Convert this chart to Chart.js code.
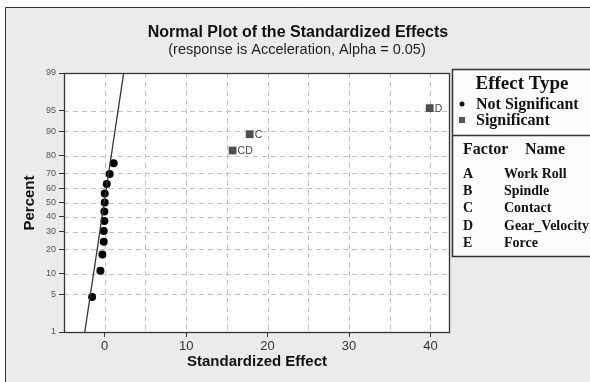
<!DOCTYPE html>
<html>
<head>
<meta charset="utf-8">
<script src="https://cdn.jsdelivr.net/npm/chart.js@4/dist/chart.umd.min.js"></script>
<style>
  html, body { margin: 0; padding: 0; background: #fff; }
  #wrap { width: 590px; height: 382px; }
</style>
</head>
<body>
<div id="wrap"><canvas id="effects" width="590" height="382"></canvas></div>
<script>
// effects that are not significant (standardized effect, normal percent)
const notSigEffects = [-1.55, -0.53, -0.29, -0.12, -0.12, -0.04, -0.04, 0, 0, 0.25, 0.61, 1.1];
const notSigPercents = [4.5, 11.0, 17.5, 24.0, 30.5, 37.0, 43.5, 50.0, 56.5, 63.0, 69.5, 76.0];

// significant effects
const sigLabels = ['CD', 'C', 'D'];
const sigEffects = [15.7, 17.8, 39.9];
const sigPercents = [82.5, 89.0, 95.5];

// fitted reference line end points
const lineEffects = [-2.45, 2.33];
const linePercents = [1, 99];

// axes
const percentTicks = [1, 5, 10, 20, 30, 40, 50, 60, 70, 80, 90, 95, 99];
const effectTicks = [-5, 0, 5, 10, 15, 20, 25, 30, 35, 40];

// factor table
const factorCodes = ['A', 'B', 'C', 'D', 'E'];
const factorNames = ['Work Roll', 'Spindle', 'Contact', 'Gear_Velocity', 'Force'];

// inverse normal cdf (Acklam) so the y axis is a normal probability scale
function probit(p) {
  const a = [-3.969683028665376e+01, 2.209460984245205e+02, -2.759285104469687e+02, 1.383577518672690e+02, -3.066479806614716e+01, 2.506628277459239e+00];
  const b = [-5.447609879822406e+01, 1.615858368580409e+02, -1.556989798598866e+02, 6.680131188771972e+01, -1.328068155288572e+01];
  const c = [-7.784894002430293e-03, -3.223964580411365e-01, -2.400758277161838e+00, -2.549732539343734e+00, 4.374664141464968e+00, 2.938163982698783e+00];
  const d = [7.784695709041462e-03, 3.224671290700398e-01, 2.445134137142996e+00, 3.754408661907416e+00];
  const pl = 0.02425;
  let q, r;
  if (p < pl) {
    q = Math.sqrt(-2 * Math.log(p));
    return (((((c[0]*q+c[1])*q+c[2])*q+c[3])*q+c[4])*q+c[5]) / ((((d[0]*q+d[1])*q+d[2])*q+d[3])*q+1);
  }
  if (p > 1 - pl) {
    q = Math.sqrt(-2 * Math.log(1 - p));
    return -(((((c[0]*q+c[1])*q+c[2])*q+c[3])*q+c[4])*q+c[5]) / ((((d[0]*q+d[1])*q+d[2])*q+d[3])*q+1);
  }
  q = p - 0.5; r = q * q;
  return (((((a[0]*r+a[1])*r+a[2])*r+a[3])*r+a[4])*r+a[5])*q / (((((b[0]*r+b[1])*r+b[2])*r+b[3])*r+b[4])*r+1);
}
const z = pct => probit(pct / 100);

const pts = (xs, ps) => xs.map((x, i) => ({ x: x, y: z(ps[i]) }));

const SANS = '"Liberation Sans", Arial, sans-serif';
const SERIF = '"Liberation Serif", "Times New Roman", serif';

const decor = {
  id: 'decor',
  beforeDraw(chart) {
    const ctx = chart.ctx;
    const a = chart.chartArea;
    ctx.save();
    ctx.fillStyle = '#ffffff';
    ctx.fillRect(0, 0, 590, 382);
    ctx.fillStyle = '#ebebeb';
    ctx.fillRect(5, 7, 600, 400);
    ctx.strokeStyle = '#333';
    ctx.lineWidth = 1;
    ctx.beginPath();
    ctx.moveTo(5.5, 382); ctx.lineTo(5.5, 7.5); ctx.lineTo(590, 7.5);
    ctx.stroke();
    ctx.fillStyle = '#ffffff';
    ctx.fillRect(a.left, a.top, a.right - a.left, a.bottom - a.top);
    ctx.restore();
  },
  beforeDatasetsDraw(chart) {
    // dashed grid at the axis ticks
    const ctx = chart.ctx;
    const a = chart.chartArea;
    const xs = chart.scales.x, ys = chart.scales.y;
    ctx.save();
    ctx.strokeStyle = '#c2c2c2';
    ctx.lineWidth = 1;
    ctx.setLineDash([5, 4]);
    effectTicks.forEach(v => {
      const px = Math.round(xs.getPixelForValue(v)) + 0.5;
      if (px <= a.left + 1 || px >= a.right - 1) return;
      ctx.beginPath(); ctx.moveTo(px, a.top); ctx.lineTo(px, a.bottom); ctx.stroke();
    });
    percentTicks.forEach(p => {
      const py = Math.round(ys.getPixelForValue(z(p))) + 0.5;
      if (py <= a.top + 1 || py >= a.bottom - 1) return;
      ctx.beginPath(); ctx.moveTo(a.left, py); ctx.lineTo(a.right, py); ctx.stroke();
    });
    ctx.restore();
  },
  afterDraw(chart) {
    const ctx = chart.ctx;
    const a = chart.chartArea;
    const xs = chart.scales.x, ys = chart.scales.y;
    ctx.save();
    // plot frame
    ctx.strokeStyle = '#333';
    ctx.lineWidth = 1.3;
    ctx.strokeRect(a.left + 0.5, a.top + 0.5, a.right - a.left - 1, a.bottom - a.top);

    // titles
    ctx.fillStyle = '#111';
    ctx.textAlign = 'center';
    ctx.textBaseline = 'middle';
    ctx.font = 'bold 16px ' + SANS;
    ctx.fillText('Normal Plot of the Standardized Effects', 298, 33);
    ctx.font = '14.5px ' + SANS;
    ctx.fillStyle = '#222';
    ctx.fillText('(response is Acceleration, Alpha = 0.05)', 297, 50);

    // axis titles
    ctx.fillStyle = '#111';
    ctx.font = 'bold 15px ' + SANS;
    ctx.fillText('Standardized Effect', (a.left + a.right) / 2, 362);
    ctx.save();
    ctx.translate(30, 203);
    ctx.rotate(-Math.PI / 2);
    ctx.fillText('Percent', 0, 0);
    ctx.restore();

    // labels of significant points
    ctx.font = '10.5px ' + SANS;
    ctx.fillStyle = '#444';
    ctx.textAlign = 'left';
    sigLabels.forEach((lab, i) => {
      ctx.fillText(lab, xs.getPixelForValue(sigEffects[i]) + 5, ys.getPixelForValue(z(sigPercents[i])) + 1);
    });

    // legend box
    const L = 452, T = 69, B = 256;
    ctx.fillStyle = '#fcfcfc';
    ctx.fillRect(L, T, 600 - L, B - T);
    ctx.strokeStyle = '#333';
    ctx.lineWidth = 1.5;
    ctx.strokeRect(L + 0.5, T + 0.5, 600 - L, B - T);
    ctx.beginPath();
    ctx.moveTo(L, 135.5); ctx.lineTo(590, 135.5);
    ctx.stroke();

    ctx.fillStyle = '#111';
    ctx.textAlign = 'center';
    ctx.font = 'bold 19px ' + SERIF;
    ctx.fillText('Effect Type', 522, 84);
    ctx.textAlign = 'left';
    ctx.font = 'bold 16px ' + SERIF;
    ctx.fillText('Not Significant', 476, 105);
    ctx.fillText('Significant', 476, 121);
    ctx.beginPath();
    ctx.arc(462, 104, 2.5, 0, Math.PI * 2);
    ctx.fill();
    ctx.fillStyle = '#555';
    ctx.fillRect(459, 117, 6, 6);

    ctx.fillStyle = '#111';
    ctx.font = 'bold 16px ' + SERIF;
    ctx.fillText('Factor', 463, 150);
    ctx.fillText('Name', 525, 150);
    ctx.font = 'bold 14px ' + SERIF;
    factorCodes.forEach((f, i) => {
      const y = 174 + i * 17.3;
      ctx.fillText(f, 463, y);
      ctx.fillText(factorNames[i], 504, y);
    });
    ctx.restore();
  }
};

new Chart(document.getElementById('effects'), {
  type: 'scatter',
  data: {
    datasets: [
      {
        type: 'line',
        data: pts(lineEffects, linePercents),
        borderColor: '#333',
        borderWidth: 1.3,
        pointRadius: 0,
        fill: false
      },
      {
        data: pts(notSigEffects, notSigPercents),
        pointStyle: 'circle',
        pointRadius: 4,
        backgroundColor: '#000',
        borderColor: '#000',
        borderWidth: 0
      },
      {
        data: pts(sigEffects, sigPercents),
        pointStyle: 'rect',
        pointRadius: 5.5,
        backgroundColor: '#4f4f4f',
        borderColor: '#4f4f4f',
        borderWidth: 0
      }
    ]
  },
  options: {
    responsive: false,
    animation: false,
    events: [],
    layout: { padding: { top: 73, right: 140, left: 0, bottom: 0 } },
    plugins: { legend: { display: false }, tooltip: { enabled: false } },
    scales: {
      x: {
        type: 'linear',
        min: -5,
        max: 42.4,
        afterBuildTicks: s => { s.ticks = effectTicks.map(v => ({ value: v })); },
        afterFit: s => { s.height = 50; },
        ticks: {
          autoSkip: false,
          maxRotation: 0,
          padding: 2,
          color: '#333',
          font: { family: SANS, size: 13 },
          callback: v => (v % 10 === 0 ? String(v) : '')
        },
        border: { display: false },
        grid: {
          drawOnChartArea: false,
          color: '#c2c2c2',
          tickLength: 5,
          tickColor: c => (c.tick && c.tick.value % 10 === 0 ? '#333' : 'transparent')
        }
      },
      y: {
        type: 'linear',
        min: z(1),
        max: z(99),
        afterBuildTicks: s => { s.ticks = percentTicks.map(p => ({ value: z(p) })); },
        afterFit: s => { s.width = 64; },
        ticks: {
          autoSkip: false,
          padding: 3,
          color: '#555',
          font: { family: SANS, size: 9 },
          callback: (v, i) => String(percentTicks[i])
        },
        border: { display: false },
        grid: {
          drawOnChartArea: false,
          color: '#c2c2c2',
          tickLength: 5,
          tickColor: '#333'
        }
      }
    }
  },
  plugins: [decor]
});
</script>
</body>
</html>
